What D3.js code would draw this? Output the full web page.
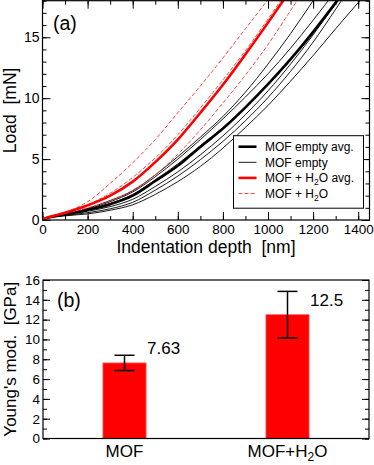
<!DOCTYPE html>
<html>
<head>
<meta charset="utf-8">
<script src="https://cdn.jsdelivr.net/npm/d3@7"></script>
<style>
  body { margin: 0; background: #fff; }
  svg { display: block; }
  text { font-family: "Liberation Sans", Arial, Helvetica, sans-serif; fill: #000; }
</style>
</head>
<body>
<svg id="chart" width="374" height="465"></svg>
<script>
// indentation depth grid [nm]
const depthNm = [0, 25, 50, 100, 150, 200, 300, 400, 500, 600, 700, 800, 900, 1000, 1100, 1200, 1300, 1400, 1500]

// load [mN], one value per depth point
const emptyAvg = [0, 0.2, 0.3, 0.47, 0.63, 0.83, 1.3, 2.0, 3.2, 4.45, 6.0, 7.5, 9.25, 11.15, 13.2, 15.45, 17.85, 20.4]
const emptyRuns = [
  [0, 0.21, 0.32, 0.5, 0.68, 0.95, 1.6, 2.4, 3.7, 5.2, 6.8, 8.5, 10.5, 12.8, 15.3, 18.0, 20.8],
  [0, 0.21, 0.32, 0.49, 0.67, 0.9, 1.5, 2.3, 3.55, 5.0, 6.6, 8.3, 10.1, 12.0, 14.1, 16.4, 18.8],
  [0, 0.2, 0.3, 0.46, 0.63, 0.85, 1.35, 2.1, 3.3, 4.6, 6.1, 7.6, 9.3, 11.1, 13.1, 15.3, 17.7, 20.2],
  [0, 0.19, 0.28, 0.42, 0.56, 0.72, 1.1, 1.7, 2.75, 3.95, 5.35, 6.9, 8.65, 10.6, 12.8, 15.2, 17.8, 20.5],
  [0, 0.18, 0.26, 0.38, 0.48, 0.6, 0.92, 1.45, 2.45, 3.6, 4.95, 6.45, 8.15, 10.05, 12.2, 14.6, 17.3, 20.1],
  [0, 0.17, 0.24, 0.34, 0.42, 0.5, 0.8, 1.25, 2.1, 3.15, 4.4, 5.9, 7.6, 9.4, 11.4, 13.5, 15.7, 17.85, 20.0],
]
const waterAvg = [0, 0.22, 0.35, 0.6, 0.88, 1.2, 2.0, 3.15, 4.75, 6.6, 8.8, 11.1, 13.6, 16.2, 18.9]
const waterRuns = [
  [0, 0.22, 0.36, 0.65, 1.0, 1.5, 3.0, 4.7, 6.6, 8.8, 11.0, 13.3, 15.7, 18.1, 20.6],
  [0, 0.22, 0.35, 0.6, 0.9, 1.25, 2.2, 3.5, 5.1, 7.0, 9.2, 11.5, 13.9, 16.5, 19.2],
  [0, 0.21, 0.33, 0.52, 0.75, 1.0, 1.55, 2.45, 3.7, 5.4, 7.4, 9.6, 11.9, 14.4, 17.2, 20.0],
]

const depthTicks = [0, 200, 400, 600, 800, 1000, 1200, 1400]
const loadTicks = [0, 5, 10, 15]

// panel (b)
const samples = ["MOF", "MOF+H2O"]
const modulus = [7.63, 12.5]
const modulusErr = [0.77, 2.35]
const modulusLabels = ["7.63", "12.5"]
const modTicks = [0, 2, 4, 6, 8, 10, 12, 14, 16]

const legendItems = [
  {label: ["MOF empty avg."], color: "#000", width: 2.6, dash: null},
  {label: ["MOF empty"], color: "#000", width: 0.9, dash: null},
  {label: ["MOF + H", "2", "O avg."], color: "#ff0000", width: 2.6, dash: null},
  {label: ["MOF + H", "2", "O"], color: "#ff3030", width: 0.9, dash: "4,2"},
]

const svg = d3.select("#chart")

// ---------- panel (a) ----------
const a = {left: 42.5, right: 369.5, top: 0.7, bottom: 220}
const x = d3.scaleLinear().domain([0, 1450]).range([a.left, a.right])
const y = d3.scaleLinear().domain([0, 18]).range([a.bottom, a.top])

const tickText = (gg, size) => {
  gg.select(".domain").remove()
  gg.selectAll("line").attr("stroke", "#000").attr("stroke-width", 1)
  gg.selectAll("text").attr("font-size", size).attr("fill", "#000")
}

svg.append("defs").append("clipPath").attr("id", "clipA")
  .append("rect").attr("x", a.left).attr("y", a.top)
  .attr("width", a.right - a.left).attr("height", a.bottom - a.top)

const minorX = d3.range(0, 1451, 100)
const minorY = d3.range(0, 19, 1)

// minor ticks
svg.append("g").attr("transform", `translate(0,${a.bottom})`)
  .call(d3.axisBottom(x).tickValues(minorX).tickSize(-4).tickFormat(""))
  .call((gg) => tickText(gg, 0))
svg.append("g").attr("transform", `translate(0,${a.top})`)
  .call(d3.axisTop(x).tickValues(minorX).tickSize(-4).tickFormat(""))
  .call((gg) => tickText(gg, 0))
svg.append("g").attr("transform", `translate(${a.left},0)`)
  .call(d3.axisLeft(y).tickValues(minorY).tickSize(-4).tickFormat(""))
  .call((gg) => tickText(gg, 0))
svg.append("g").attr("transform", `translate(${a.right},0)`)
  .call(d3.axisRight(y).tickValues(minorY).tickSize(-4).tickFormat(""))
  .call((gg) => tickText(gg, 0))

// major ticks
svg.append("g").attr("transform", `translate(0,${a.bottom})`)
  .call(d3.axisBottom(x).tickValues(depthTicks).tickSize(-8).tickPadding(4).tickFormat(d3.format("d")))
  .call((gg) => tickText(gg, 13.5))
svg.append("g").attr("transform", `translate(0,${a.top})`)
  .call(d3.axisTop(x).tickValues(depthTicks).tickSize(-8).tickFormat(""))
  .call((gg) => tickText(gg, 0))
svg.append("g").attr("transform", `translate(${a.left},0)`)
  .call(d3.axisLeft(y).tickValues(loadTicks).tickSize(-8).tickPadding(3))
  .call((gg) => tickText(gg, 14))
svg.append("g").attr("transform", `translate(${a.right},0)`)
  .call(d3.axisRight(y).tickValues(loadTicks).tickSize(-8).tickFormat(""))
  .call((gg) => tickText(gg, 0))

const line = d3.line()
  .x((d, i) => x(depthNm[i]))
  .y((d) => y(d))
  .curve(d3.curveMonotoneX)

const curves = svg.append("g").attr("clip-path", "url(#clipA)").attr("fill", "none")

curves.selectAll("path.empty")
  .data(emptyRuns)
  .join("path")
  .attr("class", "empty")
  .attr("stroke", "#000")
  .attr("stroke-width", 0.9)
  .attr("d", line)

curves.append("path")
  .attr("stroke", "#000")
  .attr("stroke-width", 2.6)
  .attr("d", line(emptyAvg))

curves.selectAll("path.water")
  .data(waterRuns)
  .join("path")
  .attr("class", "water")
  .attr("stroke", "#ff3030")
  .attr("stroke-width", 0.9)
  .attr("stroke-dasharray", "4,2")
  .attr("d", line)

curves.append("path")
  .attr("stroke", "#ff0000")
  .attr("stroke-width", 2.6)
  .attr("d", line(waterAvg))

svg.append("rect")
  .attr("x", a.left).attr("y", a.top)
  .attr("width", a.right - a.left).attr("height", a.bottom - a.top)
  .attr("fill", "none").attr("stroke", "#000").attr("stroke-width", 1.2)

// legend
const lg = svg.append("g").attr("transform", "translate(233.5,135.7)")
lg.append("rect").attr("width", 130).attr("height", 72.5)
  .attr("fill", "#fff").attr("stroke", "#000").attr("stroke-width", 1)
const rows = lg.selectAll("g.row")
  .data(legendItems)
  .join("g")
  .attr("class", "row")
  .attr("transform", (d, i) => `translate(0,${11 + i * 15.6})`)
rows.append("line")
  .attr("x1", 5).attr("x2", 23)
  .attr("stroke", (d) => d.color)
  .attr("stroke-width", (d) => d.width)
  .attr("stroke-dasharray", (d) => d.dash)
rows.append("text")
  .attr("x", 31.5).attr("dy", "0.36em")
  .attr("font-size", 12)
  .each(function (d) {
    const t = d3.select(this)
    d.label.forEach((part, k) => {
      const sp = t.append("tspan").text(part)
      if (k === 1) sp.attr("font-size", 8.5).attr("dy", 3)
      if (k === 2) sp.attr("dy", -3)
    })
  })

svg.append("text")
  .attr("x", 53).attr("y", 29.5)
  .attr("font-size", 19.5)
  .text("(a)")

svg.append("text")
  .attr("x", (a.left + a.right) / 2).attr("y", 253)
  .attr("text-anchor", "middle").attr("font-size", 17.5)
  .attr("xml:space", "preserve")
  .text("Indentation depth  [nm]")

svg.append("text")
  .attr("transform", `translate(16,${(a.top + a.bottom) / 2}) rotate(-90)`)
  .attr("text-anchor", "middle").attr("font-size", 17.5)
  .attr("xml:space", "preserve")
  .text("Load  [mN]")

// ---------- panel (b) ----------
const b = {left: 43, right: 369, top: 280, bottom: 438.5}
const xb = d3.scaleBand().domain(samples).range([b.left, b.right]).padding(0)
const yb = d3.scaleLinear().domain([0, 16]).range([b.bottom, b.top])
const barW = xb.bandwidth() * 0.265
const capW = 20

svg.append("g").attr("transform", `translate(${b.left},0)`)
  .call(d3.axisLeft(yb).tickValues(d3.range(0, 17, 1)).tickSize(-4).tickFormat(""))
  .call((gg) => tickText(gg, 0))
svg.append("g").attr("transform", `translate(${b.right},0)`)
  .call(d3.axisRight(yb).tickValues(d3.range(0, 17, 1)).tickSize(-4).tickFormat(""))
  .call((gg) => tickText(gg, 0))
svg.append("g").attr("transform", `translate(${b.left},0)`)
  .call(d3.axisLeft(yb).tickValues(modTicks).tickSize(-7).tickPadding(3))
  .call((gg) => tickText(gg, 13.5))
svg.append("g").attr("transform", `translate(${b.right},0)`)
  .call(d3.axisRight(yb).tickValues(modTicks).tickSize(-7).tickFormat(""))
  .call((gg) => tickText(gg, 0))

const bars = svg.append("g")
  .selectAll("g")
  .data(samples)
  .join("g")

bars.append("rect")
  .attr("x", (d) => xb(d) + xb.bandwidth() / 2 - barW / 2)
  .attr("width", barW)
  .attr("y", (d, i) => yb(modulus[i]))
  .attr("height", (d, i) => yb(0) - yb(modulus[i]))
  .attr("fill", "#ff0000")
  .attr("stroke", "#ff6666")
  .attr("stroke-width", 0.8)

const cx = (d) => xb(d) + xb.bandwidth() / 2
bars.append("line")
  .attr("x1", cx).attr("x2", cx)
  .attr("y1", (d, i) => yb(modulus[i] - modulusErr[i]))
  .attr("y2", (d, i) => yb(modulus[i] + modulusErr[i]))
  .attr("stroke", "#000").attr("stroke-width", 1.5)
bars.append("line")
  .attr("x1", (d) => cx(d) - capW / 2).attr("x2", (d) => cx(d) + capW / 2)
  .attr("y1", (d, i) => yb(modulus[i] + modulusErr[i]))
  .attr("y2", (d, i) => yb(modulus[i] + modulusErr[i]))
  .attr("stroke", "#000").attr("stroke-width", 1.5)
bars.append("line")
  .attr("x1", (d) => cx(d) - capW / 2).attr("x2", (d) => cx(d) + capW / 2)
  .attr("y1", (d, i) => yb(modulus[i] - modulusErr[i]))
  .attr("y2", (d, i) => yb(modulus[i] - modulusErr[i]))
  .attr("stroke", "#000").attr("stroke-width", 1.5)

bars.append("text")
  .attr("x", (d) => cx(d) + barW / 2 + 1)
  .attr("y", (d, i) => yb(modulus[i]) - 8.5)
  .attr("font-size", 17)
  .text((d, i) => modulusLabels[i])

// category labels
bars.append("text")
  .attr("x", cx)
  .attr("y", 456.5)
  .attr("text-anchor", "middle")
  .attr("font-size", 17)
  .each(function (d) {
    const t = d3.select(this)
    const m = d.match(/^(.*H)(2)(O)$/)
    if (!m) { t.text(d); return }
    t.append("tspan").text(m[1])
    t.append("tspan").text(m[2]).attr("font-size", 12).attr("dy", 4)
    t.append("tspan").text(m[3]).attr("dy", -4)
  })

svg.append("rect")
  .attr("x", b.left).attr("y", b.top)
  .attr("width", b.right - b.left).attr("height", b.bottom - b.top)
  .attr("fill", "none").attr("stroke", "#000").attr("stroke-width", 1.2)

svg.append("text")
  .attr("x", 57).attr("y", 307)
  .attr("font-size", 19.5)
  .text("(b)")

svg.append("text")
  .attr("transform", `translate(16,${(b.top + b.bottom) / 2}) rotate(-90)`)
  .attr("text-anchor", "middle").attr("font-size", 17)
  .attr("xml:space", "preserve")
  .text("Young's mod.  [GPa]")
</script>
</body>
</html>
